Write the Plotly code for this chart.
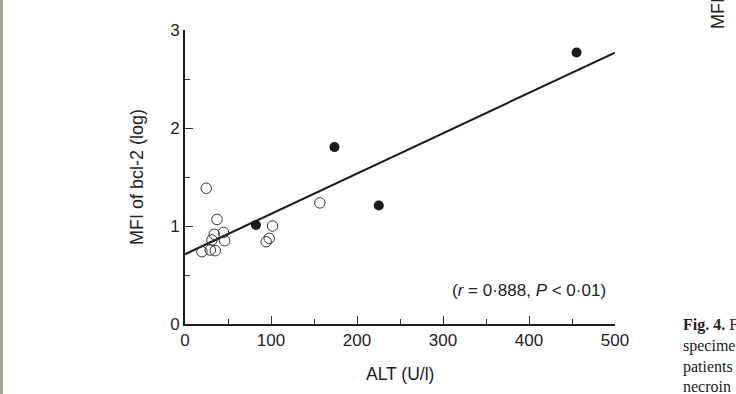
import plotly.graph_objects as go

# Open circles (one group of patients)
open_alt = [24.7, 37.2, 34.0, 44.8, 31.3, 46.0, 19.7, 29.4, 35.2, 94.4, 97.9, 101.8, 156.8]
open_mfi = [1.385, 1.067, 0.915, 0.935, 0.857, 0.850, 0.738, 0.755, 0.748, 0.839, 0.874, 1.000, 1.236]

# Filled circles (other group)
filled_alt = [82.5, 173.8, 225.3, 455.3]
filled_mfi = [1.010, 1.805, 1.209, 2.770]

# Regression line
reg_intercept = 0.712
reg_slope = 0.004116
reg_x = [0, 500]
reg_y = [reg_intercept + reg_slope * v for v in reg_x]

x_ticks = [0, 100, 200, 300, 400, 500]
y_ticks = [0, 1, 2, 3]

W, H = 736, 394
ML, MR, MT, MB = 185, 121, 30, 70
PW, PH = W - ML - MR, H - MT - MB

def px_x(p):
    return (p - ML) / PW

def px_y(p):
    return 1 - (p - MT) / PH

font_sans = "Liberation Sans, Arial, sans-serif"
txt = "#222222"

fig = go.Figure()
fig.add_trace(go.Scatter(x=reg_x, y=reg_y, mode="lines",
                         line=dict(color="#1a1a1a", width=2), hoverinfo="skip"))
fig.add_trace(go.Scatter(x=open_alt, y=open_mfi, mode="markers",
                         marker=dict(symbol="circle-open", size=10.5, color="#333333",
                                     line=dict(width=1, color="#333333"))))
fig.add_trace(go.Scatter(x=filled_alt, y=filled_mfi, mode="markers",
                         marker=dict(symbol="circle", size=10, color="#1a1a1a")))

fig.update_layout(
    width=W, height=H, showlegend=False,
    margin=dict(l=ML, r=MR, t=MT, b=MB, pad=0),
    paper_bgcolor="white", plot_bgcolor="white",
    font=dict(family=font_sans, size=17, color=txt),
    xaxis=dict(range=[0, 500], tickvals=x_ticks, ticktext=[str(v) for v in x_ticks],
               showgrid=False, zeroline=False, showline=True, linecolor="#1a1a1a", linewidth=2,
               ticks="inside", ticklen=8, tickwidth=1, tickcolor="#333333",
               minor=dict(ticks="inside", ticklen=5, tickwidth=1, tickcolor="#333333", dtick=50),
               tickfont=dict(size=17, color=txt)),
    yaxis=dict(range=[0, 3], tickvals=y_ticks, ticktext=[str(v) for v in y_ticks],
               showgrid=False, zeroline=False, showline=True, linecolor="#1a1a1a", linewidth=2,
               ticks="inside", ticklen=8, tickwidth=1, tickcolor="#333333",
               minor=dict(ticks="inside", ticklen=5, tickwidth=1, tickcolor="#333333", dtick=0.5),
               tickfont=dict(size=17, color=txt)),
)

annotations = [
    dict(text="ALT (U/l)", xref="paper", yref="paper", x=0.5, y=0, yshift=-50,
         xanchor="center", yanchor="middle", showarrow=False, font=dict(size=17.5, color=txt)),
    dict(text="MFI of bcl-2 (log)", xref="paper", yref="paper", x=0, y=0.5, xshift=-48,
         xanchor="center", yanchor="middle", textangle=-90, showarrow=False,
         font=dict(size=18, color=txt)),
    dict(text="(<i>r</i> = 0·888, <i>P</i> < 0·01)", xref="x", yref="y", x=492, y=0.343,
         xanchor="right", yanchor="middle", showarrow=False, font=dict(size=17, color=txt)),
    dict(text="MFI of bcl-2 (log)", xref="paper", yref="paper", x=px_x(718), y=px_y(31),
         xanchor="center", yanchor="bottom", textangle=-90, showarrow=False,
         font=dict(size=18, color=txt)),
    dict(text="<b>Fig. 4.</b> F<br>specime<br>patients<br>necroin",
         xref="paper", yref="paper", x=px_x(681), y=px_y(314), xanchor="left", yanchor="top",
         align="left", showarrow=False,
         font=dict(family="Liberation Serif, Times New Roman, serif", size=16, color="#222222")),
]
fig.update_layout(annotations=annotations)

fig.add_shape(type="rect", xref="paper", yref="paper", x0=px_x(0), x1=px_x(3),
              y0=px_y(H), y1=px_y(0), fillcolor="#a6a396", line=dict(width=0), layer="above")

fig.write_html("out.html", config={"displayModeBar": False},
               post_script="document.body.style.margin='0px';document.body.style.overflow='hidden';")
